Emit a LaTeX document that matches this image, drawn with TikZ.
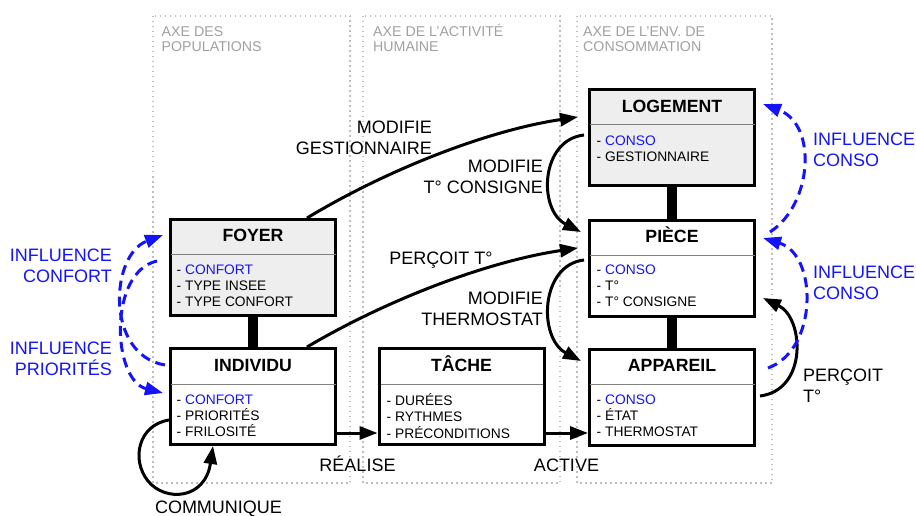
\documentclass[tikz,border=0pt]{standalone}
\usepackage{fontspec}
\setmainfont{Liberation Sans}
\usetikzlibrary{arrows.meta,calc}
\definecolor{bluec}{RGB}{20,20,250}
\definecolor{boxgray}{RGB}{238,238,238}
\definecolor{axisgray}{RGB}{160,160,160}
\definecolor{dotgray}{RGB}{190,190,190}
\definecolor{divgray}{RGB}{130,130,130}
\begin{document}
\begin{tikzpicture}[x=1pt,y=-1pt,
  box/.style={draw, line width=3pt, fill=white, minimum width=165pt, minimum height=96pt, inner sep=0pt},
  graybox/.style={box, fill=boxgray},
  titletext/.style={font=\fontsize{17.7}{21}\selectfont\bfseries, anchor=base, inner sep=0pt},
  items/.style={font=\fontsize{13.8}{16.2}\selectfont, align=left, anchor=west, inner sep=0pt},
  lbl/.style={font=\fontsize{18}{21}\selectfont, inner sep=0pt},
  blbl/.style={lbl, text=bluec},
  axisbox/.style={draw=dotgray, line width=1.5pt, dash pattern=on 1.5pt off 3.5pt},
  axistext/.style={font=\fontsize{14.2}{15.6}\selectfont, text=axisgray, align=left, anchor=west, inner sep=0pt},
  arr/.style={line width=3pt, -{Triangle[length=18pt,width=13pt]}},
  barc/.style={line width=10pt},
  dasharr/.style={arr, draw=bluec, dash pattern=on 10pt off 6pt},
  divider/.style={draw=divgray, line width=1pt},
]
\useasboundingbox (0,0) rectangle (916,516);

% axes
\draw[axisbox] (153,16) rectangle (350,483);
\draw[axisbox] (363,16) rectangle (560,483);
\draw[axisbox] (577,16) rectangle (772,483);
\node[axistext] (ax1) at (161.5,38.1) {AXE DES\vphantom{É}\\POPULATIONS};
\node[axistext] (ax2) at (373,38.1) {AXE DE L'ACTIVITÉ\\HUMAINE};
\node[axistext] (ax3) at (583,38.1) {AXE DE L'ENV. DE\vphantom{É}\\CONSOMMATION};

% boxes
\node[graybox] (foyer) at (253,267.5) {};
\node[box] (indiv) at (253,396.5) {};
\node[box] (tache) at (461.5,396.5) {};
\node[graybox] (logement) at (672,138) {};
\node[box] (piece) at (672,268) {};
\node[box] (appareil) at (672,397) {};

\draw[barc] (foyer.south) -- (indiv.north);
\draw[barc] (logement.south) -- (piece.north);
\draw[barc] (piece.south) -- (appareil.north);

% dividers
\draw[divider] (170.5,254) -- (335.5,254);
\draw[divider] (170.5,384) -- (335.5,384);
\draw[divider] (380.5,384) -- (542.5,384);
\draw[divider] (589.5,125) -- (754.5,125);
\draw[divider] (589.5,255) -- (754.5,255);
\draw[divider] (589.5,384) -- (754.5,384);

% titles
\node[titletext] (tfoyer) at (253,241.3) {FOYER};
\node[titletext] (tindiv) at (253,371.3) {INDIVIDU};
\node[titletext] (ttache) at (461.5,371.3) {TÂCHE};
\node[titletext] (tlog) at (672,112.3) {LOGEMENT};
\node[titletext] (tpiece) at (672,242.3) {PIÈCE};
\node[titletext] (tapp) at (672,371.3) {APPAREIL};

% items
\node[items] (ifoyer) at (176.5,286) {- \textcolor{bluec}{CONFORT}\\- TYPE INSEE\\- TYPE CONFORT};
\node[items] (iindiv) at (176.5,416) {- \textcolor{bluec}{CONFORT}\\- PRIORITÉS\\- FRILOSITÉ};
\node[items] (itache) at (386.5,416) {- DURÉES\\- RYTHMES\\- PRÉCONDITIONS};
\node[items] (ilog) at (596.5,148.5) {- \textcolor{bluec}{CONSO}\\- GESTIONNAIRE};
\node[items] (ipiece) at (596.5,286) {- \textcolor{bluec}{CONSO}\\- T°\\- T° CONSIGNE};
\node[items] (iapp) at (596.5,416) {- \textcolor{bluec}{CONSO}\\- ÉTAT\\- THERMOSTAT};

% horizontal arrows
\draw[arr] (indiv.east |- 0,433) -- (tache.west |- 0,433);
\draw[arr] (tache.east |- 0,433) -- (appareil.west |- 0,433);

% long arrows
\draw[arr] (foyer.north -| 307,0) .. controls (390,168) and (490,130) .. ($(logement.west)+(-10,-21)$);
\draw[arr] (indiv.north -| 307,0) .. controls (390,298) and (490,261) .. ($(piece.west)+(-10,-20)$);

% modifie arcs
\draw[arr] ($(logement.west)+(-4,-3)$) .. controls (540,140) and (538,210) .. ($(piece.west)+(-7,-36)$);
\draw[arr] ($(piece.west)+(-4,-8)$) .. controls (540,265) and (538,338) .. ($(appareil.west)+(-7,-36)$);

% percoit right
\draw[arr] ($(appareil.east)+(4,-1)$) .. controls (808,390) and (804,318) .. ($(piece.east)+(7,30)$);

% blue dashed right
\draw[dasharr] ($(piece.east)+(14,-36)$) .. controls (812,205) and (818,125) .. ($(logement.east)+(7,-34)$);
\draw[dasharr] ($(appareil.east)+(12,-29)$) .. controls (818,350) and (818,255) .. ($(piece.east)+(7,-30)$);

% blue dashed left
\draw[dasharr] ($(indiv.west)+(-4,-31.5)$) .. controls (105,355) and (110,255) .. ($(foyer.west)+(-6,-32.5)$);
\draw[dasharr] ($(foyer.west)+(-12,-6.5)$) .. controls (108,272) and (112,380) .. ($(indiv.west)+(-6,-3.5)$);

% communique loop
\draw[arr] ($(indiv.west)+(0,23.5)$) .. controls (138,425) and (131,460) .. (148,481) .. controls (165,502) and (205,500) .. (indiv.south -| 213,0);

% labels
\node[lbl, align=right, anchor=east] (lgest) at (432,137.5) {MODIFIE\\GESTIONNAIRE};
\node[lbl, align=right, anchor=east] (lcons) at (543,176.5) {MODIFIE\\T° CONSIGNE};
\node[lbl, anchor=base] (lperc) at (441,264.3) {PERÇOIT T°};
\node[lbl, align=right, anchor=east] (ltherm) at (543,309) {MODIFIE\\THERMOSTAT};
\node[lbl, align=left, anchor=west] (lperc2) at (803,385.5) {PERÇOIT\\T°};
\node[blbl, align=left, anchor=west] (lic1) at (813,149.5) {INFLUENCE\\CONSO};
\node[blbl, align=left, anchor=west] (lic2) at (813,283) {INFLUENCE\\CONSO};
\node[blbl, align=right, anchor=east] (licf) at (112,266) {INFLUENCE\\CONFORT};
\node[blbl, align=right, anchor=east] (lipr) at (112,358.5) {INFLUENCE\\PRIORITÉS};
\node[lbl, anchor=base] (lreal) at (357.5,471.3) {RÉALISE};
\node[lbl, anchor=base] (lact) at (566.5,471.3) {ACTIVE};
\node[lbl, anchor=base] (lcomm) at (218.5,513.3) {COMMUNIQUE};
\end{tikzpicture}
\end{document}
